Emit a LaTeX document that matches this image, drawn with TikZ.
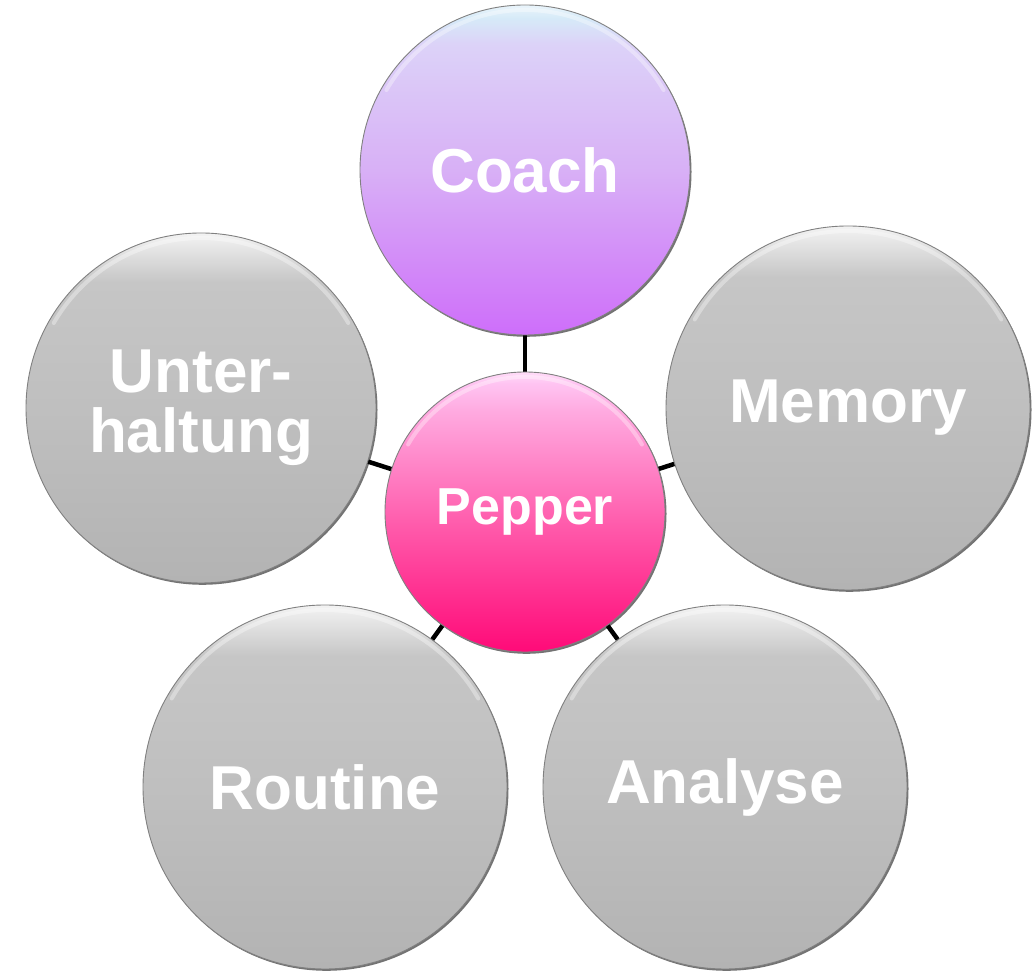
\documentclass[tikz,border=0pt]{standalone}
\usepackage{fontspec}
\setmainfont{Liberation Sans}
\usetikzlibrary{shadows}
\definecolor{gB}{HTML}{B3B3B3}
\definecolor{gM}{HTML}{BFBFBF}
\definecolor{gU}{HTML}{C6C6C6}
\definecolor{gT}{HTML}{E0E0E0}
\definecolor{gW}{HTML}{F3F3F3}
\definecolor{cB}{HTML}{CE6EFA}
\definecolor{cM}{HTML}{D8B0F6}
\definecolor{cU}{HTML}{DCD2F8}
\definecolor{cT}{HTML}{D6EAF8}
\definecolor{cW}{HTML}{EAF5FB}
\definecolor{pB}{HTML}{FF0A78}
\definecolor{pM}{HTML}{FF5CAC}
\definecolor{pU}{HTML}{FFAAE0}
\definecolor{pT}{HTML}{FFC4F2}
\definecolor{pW}{HTML}{FFDDF8}
\pgfdeclareverticalshading{grayball}{100bp}{color(0bp)=(gB); color(25bp)=(gB); color(50bp)=(gM); color(68bp)=(gU); color(72bp)=(gT); color(75bp)=(gW); color(100bp)=(gW)}
\pgfdeclareverticalshading{coachball}{100bp}{color(0bp)=(cB); color(25bp)=(cB); color(50bp)=(cM); color(69bp)=(cU); color(73bp)=(cT); color(75bp)=(cW); color(100bp)=(cW)}
\pgfdeclareverticalshading{pepball}{100bp}{color(0bp)=(pB); color(25bp)=(pB); color(48bp)=(pM); color(68bp)=(pU); color(73bp)=(pT); color(75bp)=(pW); color(100bp)=(pW)}
\pgfdeclarelayer{bg}
\pgfsetlayers{bg,main}
\tikzset{
  ball/.style={circle, inner sep=0pt, draw=black!50, line width=0.9pt,
    text=white, font=\bfseries\fontsize{62}{60}\selectfont, align=center,
    drop shadow={shadow xshift=1.5pt, shadow yshift=-1.8pt, opacity=0.55, fill=black}},
  grayball/.style={ball, shading=grayball},
  link/.style={line width=4.5pt, black},
  shine/.style={white, opacity=0.35, line width=4pt, line cap=round}
}
\begin{document}
\begin{tikzpicture}[x=1pt, y=1pt]
\useasboundingbox (0,0) rectangle (1035,971);
\node[ball, shading=coachball, minimum size=330] (coach) at (525,801) {Coach};
\node[grayball, minimum size=350] (unter) at (201,563) {Unter-\\haltung};
\node[grayball, minimum size=364] (memory) at (848,563) {Memory};
\node[grayball, minimum size=364] (routine) at (325,184) {Routine};
\node[grayball, minimum size=364] (analyse) at (725,184) {Analyse};
\node[ball, shading=pepball, minimum size=280, font=\bfseries\fontsize{52}{52}\selectfont] (pepper) at (525,459) {Pepper};
\begin{pgfonlayer}{bg}
\draw[link] (pepper.center) -- (coach.center);
\draw[link] (pepper.center) -- (unter.center);
\draw[link] (pepper.center) -- (memory.center);
\draw[link] (pepper.center) -- (routine.center);
\draw[link] (pepper.center) -- (analyse.center);
\end{pgfonlayer}
\foreach \n/\r in {coach/165, unter/175, memory/182, routine/182, analyse/182, pepper/140}{
  \draw[shine] ([shift={(150:{\r-5})}]\n.center) arc[start angle=150, end angle=30, radius={\r-5}];
}
\end{tikzpicture}
\end{document}
